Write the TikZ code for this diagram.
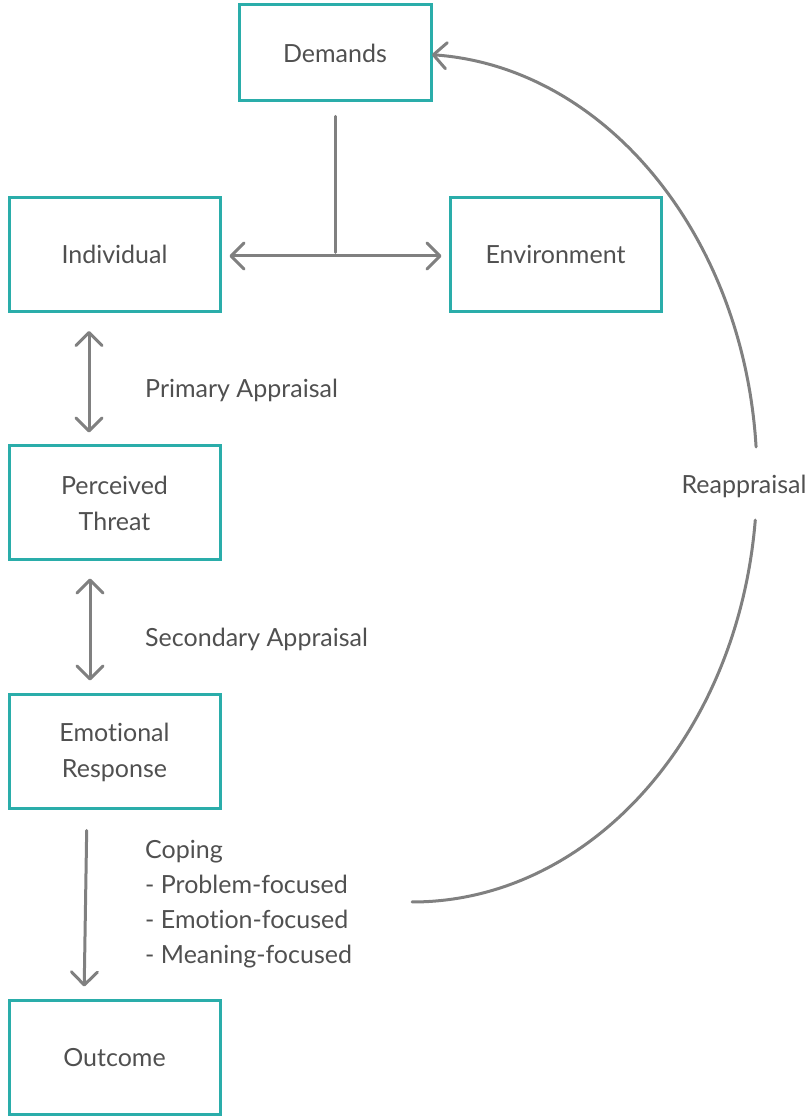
\documentclass[tikz,border=0pt]{standalone}
\usepackage{fontspec}
\setmainfont{Lato}[Ligatures=NoCommon]
\usetikzlibrary{arrows.meta}
\definecolor{teal1}{RGB}{42,173,170}
\definecolor{linegray}{RGB}{128,128,128}
\definecolor{textgray}{RGB}{80,80,80}
\begin{document}
\begin{tikzpicture}[x=1pt,y=1pt,
  box/.style={draw=teal1,line width=3pt,minimum width=211pt,minimum height=114pt,inner sep=0pt,
    align=center,text=textgray,font=\fontsize{25}{36}\selectfont},
  lbl/.style={text=textgray,font=\fontsize{25}{35}\selectfont,inner sep=0pt,anchor=west,align=left},
  conn/.style={draw=linegray,line width=3pt,line cap=round},
  tip/.style={-{Straight Barb[length=13pt,width=26pt,line cap=round,line join=round]}},
  tips/.style={{Straight Barb[length=13pt,width=26pt,line cap=round,line join=round]}-{Straight Barb[length=13pt,width=26pt,line cap=round,line join=round]}}]
\useasboundingbox (0,0) rectangle (811,1116);
\node[box,minimum width=192pt,minimum height=96pt] (dem) at (335,1063) {Demands};
\node[box] (ind) at (114.5,861.5) {Individual};
\node[box] (env) at (555.5,861.5) {Environment};
\node[box] (per) at (114.5,613) {Perceived\\Threat};
\node[box] (emo) at (114.5,364) {Emotional\\Response};
\node[box] (out) at (114.5,58) {Outcome};
\node[lbl] (pa) at (145,726) {Primary Appraisal};
\node[lbl] (sa) at (145,477) {Secondary Appraisal};
\node[lbl] (cop) at (145,211.5) {Coping\\- Problem-focused\\- Emotion-focused\\- Meaning-focused};
\node[text=textgray,font=\fontsize{25}{34}\selectfont,inner sep=0pt] (rea) at (744,630) {Reappraisal};
% demands to individual/environment
\coordinate (mid) at (dem.south |- ind.east);
\draw[conn] ([yshift=-14pt]dem.south) -- ([yshift=2pt]mid);
\draw[conn,tips,shorten <=8pt,shorten >=7pt] ([yshift=-1.5pt]ind.east) -- ([yshift=-1.5pt]env.west);
% vertical arrows
\draw[conn,tips,shorten <=18pt,shorten >=12pt] ([xshift=-25.5pt]ind.south) -- ([xshift=-25.5pt]per.north);
\draw[conn,tips,shorten <=17pt,shorten >=13pt] ([xshift=-24.5pt]per.south) -- ([xshift=-24.5pt]emo.north);
\draw[conn,tip,shorten <=20pt,shorten >=13pt] ([xshift=-27.5pt]emo.south) -- ([xshift=-30.5pt]out.north);
% reappraisal arc
\coordinate (rs) at (412,214);
\coordinate (rm) at (756.07,669.06);
\draw[conn] (rs) arc[start angle=-90,end angle=-5.7,x radius=345,y radius=424];
\draw[conn,tip] (rm) arc[start angle=4.2,end angle=86.7,x radius=345,y radius=424];
\end{tikzpicture}
\end{document}
